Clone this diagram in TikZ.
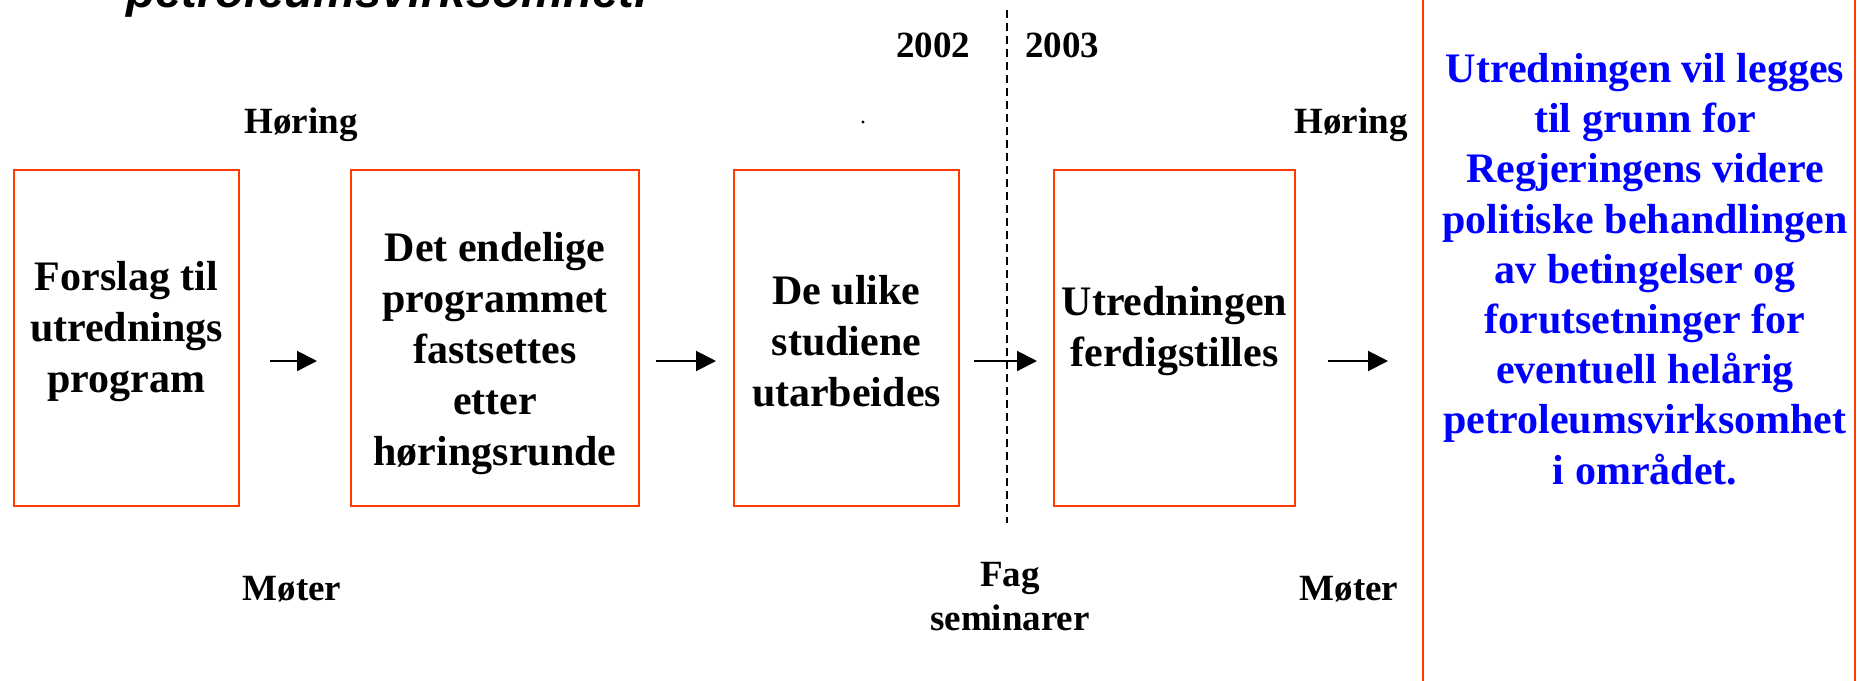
\documentclass[tikz,border=0pt]{standalone}
\usepackage{fontspec}
\setmainfont{Liberation Serif}
\newfontfamily\titlefont{Liberation Sans}
\usetikzlibrary{arrows.meta}
\definecolor{boxred}{RGB}{255,60,0}
\definecolor{bluetxt}{RGB}{0,0,255}
\begin{document}
\begin{tikzpicture}[x=0.5pt,y=-0.5pt,
  boxst/.style={draw=boxred,line width=1pt,inner sep=0pt,minimum height=168pt},
  btext/.style={font=\bfseries\fontsize{21}{25.5}\selectfont,align=center,inner sep=0pt},
  lbl/.style={font=\bfseries\fontsize{18.5}{22}\selectfont,inner sep=0pt},
  arr/.style={line width=1pt,-{Triangle[length=10pt,width=10pt]}},
  yearline/.style={line width=1pt,dash pattern=on 4pt off 2.5pt}]
\useasboundingbox (0,0) rectangle (1867,680);
\clip (0,0) rectangle (1867,680);
% title (cut off at top)
\node[anchor=base west,inner sep=0pt,font=\titlefont\bfseries\itshape\fontsize{23.7}{28}\selectfont] (title) at (126,8) {petroleumsvirksomhet.};
% boxes
\node[boxst,minimum width=112.5pt] (b1) at (126.5,338) {};
\node[boxst,minimum width=144pt] (b2) at (495,338) {};
\node[boxst,minimum width=112.5pt] (b3) at (846.5,338) {};
\node[boxst,minimum width=120.5pt] (b4) at (1174.5,338) {};
\node[btext] (t1) at (126.5,332) {Forslag til\\utrednings\\program};
\node[btext] (t2) at (495,354) {Det endelige\\programmet\\fastsettes\\etter\\høringsrunde};
\node[btext] (t3) at (846.5,341) {De ulike\\studiene\\utarbeides};
\node[btext] (t4) at (1174.5,331) {Utredningen\\ferdigstilles};
% right box
\node[draw=boxred,line width=1.4pt,minimum width=216pt,minimum height=400pt,inner sep=0pt] (rb) at (1639,340) {};
\node[btext,text=bluetxt,font=\bfseries\fontsize{21}{25.1}\selectfont] (rt) at (1645,269) {Utredningen vil legges\\til grunn for\\Regjeringens videre\\politiske behandlingen\\av betingelser og\\forutsetninger for\\eventuell helårig\\petroleumsvirksomhet\\i området.};
% dashed year line
\coordinate (d1) at (1007,10);
\coordinate (d2) at (1007,523);
\draw[yearline] (d1) -- (d2);
\node[lbl,anchor=base] (y1) at (933,57) {2002};
\node[lbl,anchor=base] (y2) at (1062,57) {2003};
% arrows
\coordinate (a1s) at (270,361); \coordinate (a1e) at (317,361);
\coordinate (a2s) at (656,361); \coordinate (a2e) at (716,361);
\coordinate (a3s) at (974,361); \coordinate (a3e) at (1037,361);
\coordinate (a4s) at (1328,361); \coordinate (a4e) at (1388,361);
\draw[arr] (a1s) -- (a1e);
\draw[arr] (a2s) -- (a2e);
\draw[arr] (a3s) -- (a3e);
\draw[arr] (a4s) -- (a4e);
% labels
\node[lbl] (h1) at (301,125) {Høring};
\node[lbl] (h2) at (1351,125) {Høring};
\node[lbl] (m1) at (292,589) {Møter};
\node[lbl] (m2) at (1349,589) {Møter};
\node[lbl,align=center,font=\bfseries\fontsize{18.5}{22}\selectfont] (fs) at (1010,597) {Fag\\seminarer};
% stray dot
\fill (863,122) circle[radius=0.8pt];
\end{tikzpicture}
\end{document}
